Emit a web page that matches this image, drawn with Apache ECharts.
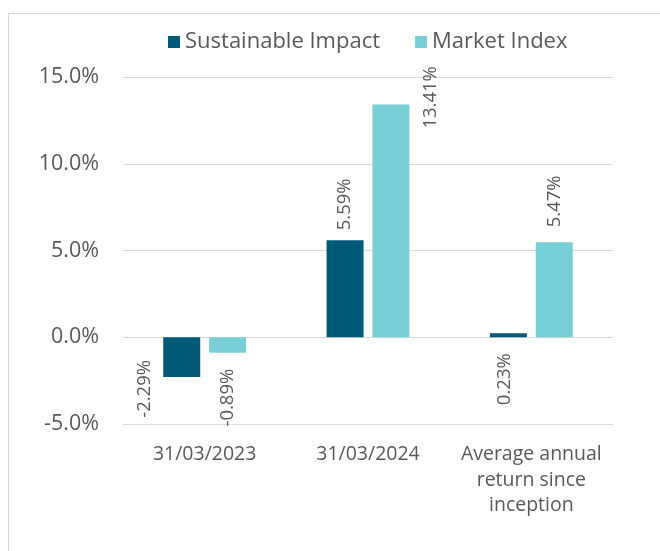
<!doctype html>
<html lang="en">
<head>
    <meta charset="utf-8">
    <title>Returns chart</title>
    <script src="https://cdn.jsdelivr.net/npm/echarts@6/dist/echarts.min.js"></script>
    <style>
        html, body { margin: 0; padding: 0; background: #fff; }
        #chart { width: 660px; height: 551px; }
    </style>
</head>
<body>
    <div id="chart"></div>

    <script type="text/javascript">
        // chart data (percent)
        var categories = ['31/03/2023', '31/03/2024', 'Average annual\nreturn since\ninception'];
        var seriesNames = ['Sustainable Impact', 'Market Index'];
        var sustainableImpact = [-2.29, 5.59, 0.23];
        var marketIndex = [-0.89, 13.41, 5.47];
        var yTicks = [-5, 0, 5, 10, 15];

        var textGray = '#595959';
        var font = 'Open Sans';

        // where each rotated value label sits (Excel moved some of them)
        var siLabelPos = [
            { position: 'bottom', distance: 0, align: 'right', offset: [17, -36.5] },
            { position: 'top', distance: 10, align: 'left' },
            { position: 'bottom', distance: 16, align: 'right', offset: [0, -4] }
        ];
        var miLabelPos = [
            { position: 'bottom', distance: 16, align: 'right' },
            { position: 'top', distance: 0, align: 'left', offset: [-24, 40] },
            { position: 'top', distance: 15, align: 'left' }
        ];

        function buildData(values, placements) {
            return values.map(function (v, i) {
                return { value: v, label: placements[i] };
            });
        }

        var labelStyle = {
            show: true,
            rotate: 90,
            verticalAlign: 'middle',
            color: textGray,
            fontFamily: font,
            fontSize: 18.5,
            formatter: function (p) { return p.value.toFixed(2) + '%'; }
        };

        var myChart = echarts.init(document.getElementById('chart'));
        var option = {
            animation: false,
            color: ['#005a78', '#78cfd8'],
            graphic: [{
                type: 'rect',
                shape: { x: 8.5, y: 13.5, width: 700, height: 600 },
                style: { fill: 'none', stroke: '#d9d9d9', lineWidth: 1 },
                silent: true
            }],
            legend: {
                top: 26,
                left: 163,
                itemWidth: 12,
                itemHeight: 12,
                itemGap: 35,
                icon: 'rect',
                data: seriesNames,
                textStyle: { color: textGray, fontFamily: font, fontSize: 22 }
            },
            grid: { left: 123, right: 47, top: 77, bottom: 127 },
            xAxis: {
                type: 'category',
                data: categories,
                axisLine: { show: false },
                axisTick: { show: false },
                axisLabel: {
                    color: textGray,
                    fontFamily: font,
                    fontSize: 19.5,
                    lineHeight: 25.5,
                    margin: 18,
                    interval: 0
                }
            },
            yAxis: {
                type: 'value',
                min: yTicks[0],
                max: yTicks[yTicks.length - 1],
                interval: 5,
                axisLine: { show: false },
                axisTick: { show: false },
                axisLabel: {
                    color: textGray,
                    fontFamily: font,
                    fontSize: 21.5,
                    margin: 24,
                    formatter: function (v) { return v.toFixed(1) + '%'; }
                },
                splitLine: { lineStyle: { color: '#d9d9d9', width: 1 } }
            },
            series: [
                {
                    name: seriesNames[0],
                    type: 'bar',
                    barWidth: 37,
                    barGap: '24%',
                    label: labelStyle,
                    data: buildData(sustainableImpact, siLabelPos)
                },
                {
                    name: seriesNames[1],
                    type: 'bar',
                    barWidth: 37,
                    barGap: '24%',
                    label: labelStyle,
                    data: buildData(marketIndex, miLabelPos)
                }
            ]
        };
        myChart.setOption(option);
    </script>
</body>
</html>
